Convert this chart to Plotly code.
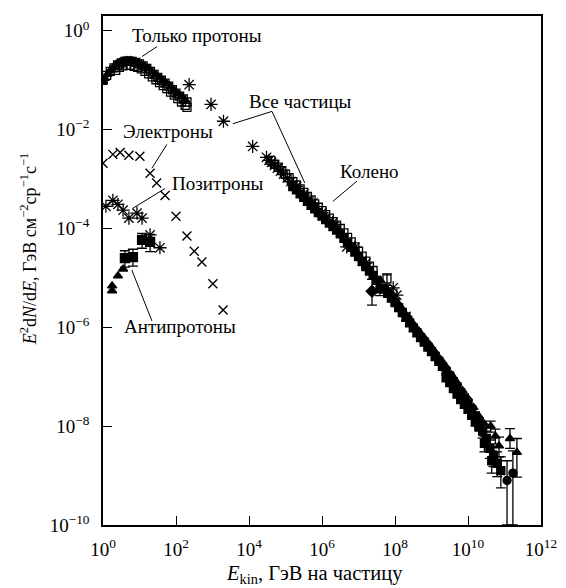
import numpy as np
import plotly.graph_objects as go

# ---------------- data (log10 of energy in GeV, log10 of E^2 dN/dE) ----------------
# Protons only (open squares, two data sets) and filled triangles
prot_a_logE = [0.00, 0.10, 0.20, 0.30, 0.40, 0.50, 0.60, 0.70, 0.80, 0.90, 1.00, 1.10,
               1.20, 1.30, 1.40, 1.50, 1.60, 1.70, 1.80, 1.90, 2.00, 2.10, 2.20, 2.30]
prot_a_logF = [-1.00, -0.90, -0.82, -0.75, -0.69, -0.65, -0.62, -0.61, -0.62, -0.64, -0.67, -0.71,
               -0.76, -0.82, -0.88, -0.94, -1.00, -1.06, -1.12, -1.19, -1.26, -1.32, -1.38, -1.44]
prot_b_logE = [0.35, 0.45, 0.55, 0.65, 0.75, 0.85, 0.95, 1.05, 1.15, 1.25, 1.35, 1.45, 1.55,
               1.65, 1.75, 1.85, 1.95, 2.05, 2.15, 2.25, 2.30]
prot_b_logF = [-0.80, -0.74, -0.71, -0.70, -0.70, -0.72, -0.74, -0.77, -0.82, -0.87, -0.93, -0.99, -1.05,
               -1.11, -1.17, -1.24, -1.30, -1.37, -1.44, -1.51, -1.55]
prot_t_logE = [0.00, 0.05, 0.12, 0.20, 0.28, 0.36, 0.45, 0.55, 0.65, 0.75, 0.85, 0.95, 1.05,
               1.15, 1.25, 1.35, 1.45, 1.55, 1.65, 1.75, 1.85, 1.95, 2.05, 2.15, 2.25]
prot_t_logF = [-1.02, -0.96, -0.88, -0.80, -0.74, -0.68, -0.64, -0.61, -0.60, -0.60, -0.62, -0.65, -0.68,
               -0.72, -0.77, -0.83, -0.89, -0.95, -1.01, -1.07, -1.13, -1.20, -1.27, -1.33, -1.40]

# Electrons (x)
elec_logE = [0.00, 0.27, 0.47, 0.71, 1.01, 1.29, 1.47, 1.70, 2.00, 2.30, 2.50, 2.71, 3.01, 3.29]
elec_logF = [-2.68, -2.50, -2.46, -2.52, -2.54, -2.88, -3.08, -3.33, -3.75, -4.15, -4.46, -4.68, -5.12, -5.65]

# Positrons (asterisks)
posi_logE = [0.08, 0.27, 0.41, 0.55, 0.71, 0.93, 1.07, 1.29, 1.56]
posi_logF = [-3.55, -3.43, -3.51, -3.63, -3.79, -3.69, -3.79, -4.13, -4.39]

# Antiprotons (filled squares with error bars)
apsq_logE = [0.60, 0.82, 1.07, 1.29]
apsq_logF = [-4.60, -4.58, -4.23, -4.27]
apsq_logHi = [-4.45, -4.42, -4.10, -4.12]
apsq_logLo = [-4.78, -4.76, -4.40, -4.47]
# Antiprotons (filled triangles)
aptr_logE = [0.25, 0.25, 0.41, 0.55]
aptr_logF = [-5.26, -5.16, -4.96, -4.82]

# All particles (asterisks)
allp_logE = [2.36, 2.96, 3.30, 4.10, 4.48, 4.55, 4.62, 4.70, 4.78, 4.86, 4.95, 5.05, 5.15,
             5.30, 5.50, 5.75, 6.00, 6.30, 6.68, 6.90, 7.20, 7.95, 8.05, 8.30]
allp_logF = [-1.09, -1.49, -1.83, -2.34, -2.56, -2.62, -2.66, -2.72, -2.78, -2.84, -2.90, -2.98, -3.05,
             -3.15, -3.30, -3.48, -3.68, -3.88, -4.37, -4.38, -4.70, -5.20, -5.35, -5.78]

# All particles: open squares
osq_logE = [4.60, 4.70, 4.80, 4.90, 5.00, 5.10, 5.20, 5.30, 5.40, 5.50, 5.60, 5.70, 5.80, 5.90, 6.00,
            6.10, 6.20, 6.30, 6.40, 6.50, 6.60, 6.70, 6.80, 6.90, 7.00, 7.10, 7.20, 7.30, 7.40]
osq_logF = [-2.62, -2.70, -2.76, -2.83, -2.90, -2.97, -3.05, -3.12, -3.20, -3.27, -3.35, -3.42, -3.50, -3.57, -3.64,
            -3.72, -3.79, -3.86, -3.93, -4.00, -4.09, -4.18, -4.27, -4.37, -4.46, -4.56, -4.66, -4.76, -4.85]
osq_err_logE = [7.78]
osq_err_logF = [-5.02]
osq_err_logHi = [-4.92]
osq_err_logLo = [-5.15]

# All particles: filled squares
fsq_logE = [5.20, 5.30, 5.40, 5.50, 5.60, 5.70, 5.80, 5.90, 6.00, 6.10, 6.20, 6.30, 6.40, 6.50, 6.60,
            6.70, 6.80, 6.90, 7.00, 7.10, 7.20, 7.30, 7.40, 7.50, 7.70, 7.80, 7.90, 8.00, 8.10, 8.20,
            8.30, 8.40, 8.50, 8.60, 8.70, 8.80, 8.90, 9.00, 9.10, 9.20, 9.30, 9.40, 9.50, 9.60, 9.70,
            9.80, 9.90, 10.00, 10.10, 10.20]
fsq_logF = [-3.15, -3.22, -3.30, -3.37, -3.45, -3.53, -3.60, -3.68, -3.75, -3.82, -3.89, -3.96, -4.03, -4.11, -4.20,
            -4.29, -4.38, -4.48, -4.57, -4.67, -4.77, -4.86, -4.95, -5.05, -5.22, -5.31, -5.41, -5.50, -5.60, -5.70,
            -5.80, -5.91, -6.01, -6.11, -6.21, -6.30, -6.40, -6.49, -6.59, -6.69, -6.79, -6.89, -6.99, -7.10, -7.21,
            -7.32, -7.43, -7.54, -7.66, -7.79]
fsq2_logE = [9.40, 9.50, 9.60, 9.70, 9.80, 9.90, 10.00, 10.10, 10.20, 10.30]
fsq2_logF = [-7.02, -7.12, -7.24, -7.35, -7.46, -7.56, -7.66, -7.78, -7.92, -8.02]
fsq_err_logE = [7.59, 10.30, 10.40, 10.50, 10.60, 10.70, 10.80, 10.90, 10.45, 10.65]
fsq_err_logF = [-5.22, -7.95, -8.10, -8.25, -8.45, -8.60, -8.75, -8.90, -8.35, -8.70]
fsq_err_logHi = [-5.10, -7.85, -7.98, -8.10, -8.28, -8.42, -8.52, -8.62, -8.20, -8.50]
fsq_err_logLo = [-5.36, -8.06, -8.24, -8.42, -8.65, -8.82, -9.02, -9.25, -8.52, -8.95]

# All particles: filled triangles
ftr_logE = [7.60, 7.75, 7.90, 8.05, 8.20, 8.35, 8.50, 8.65, 8.80, 8.95, 9.10, 9.25, 9.40, 9.55,
            9.70, 9.85, 10.00, 10.15, 10.30, 10.45]
ftr_logF = [-5.05, -5.20, -5.34, -5.48, -5.63, -5.78, -5.93, -6.07, -6.21, -6.35, -6.50, -6.65, -6.80, -6.96,
            -7.12, -7.28, -7.44, -7.62, -7.80, -7.96]
ftr_err_logE = [10.62, 10.75, 10.85, 11.15, 11.34]
ftr_err_logF = [-8.00, -8.20, -8.40, -8.25, -8.53]
ftr_err_logHi = [-7.90, -8.06, -8.22, -8.05, -8.25]
ftr_err_logLo = [-8.12, -8.36, -8.62, -8.45, -9.03]

# All particles: filled circles (highest energies)
circ_logE = [11.07, 11.23]
circ_logF = [-9.10, -8.95]
circ_logHi = [-8.70, -8.50]
circ_logLo = [-10.00, -10.00]

# Diamond near the knee
dia_logE = [7.37]
dia_logF = [-5.27]
dia_logHi = [-5.03]
dia_logLo = [-5.55]

# Leader lines for labels (log10 coords)
lead_prot = ([1.48, 1.07], [-0.32, -0.52])
lead_all = ([3.56, 4.63, 5.53], [-1.88, -1.63, -3.08])
lead_knee = ([6.96, 6.30], [-3.04, -3.45])
lead_elec = ([1.75, 1.34], [-2.30, -2.78])
lead_posi = ([1.70, 0.82], [-3.19, -3.59])
lead_apro = ([1.34, 0.79], [-5.87, -4.84])

labels = [("Только протоны", 2.58, -0.10), ("Все частицы", 5.40, -1.43), ("Колено", 7.29, -2.84),
          ("Электроны", 1.78, -2.04), ("Позитроны", 3.15, -3.08), ("Антипротоны", 2.11, -5.99)]

x_tick_exp = [0, 2, 4, 6, 8, 10, 12]
y_tick_exp = [0, -2, -4, -6, -8, -10]


def P(a):
    return np.power(10.0, np.array(a, dtype=float))


FONT = "Liberation Serif, Times New Roman, serif"
FS = 19
fig = go.Figure()


def add(xl, yl, symbol, size, hi=None, lo=None, lw=1.3):
    x = P(xl)
    y = P(yl)
    trace = dict(x=x, y=y, mode="markers", showlegend=False, hoverinfo="skip",
                 marker=dict(symbol=symbol, size=size, color="black",
                             line=dict(color="black", width=lw)))
    if hi is not None:
        trace["error_y"] = dict(type="data", symmetric=False, array=P(hi) - y, arrayminus=y - P(lo),
                                color="black", thickness=1.3, width=5)
    fig.add_trace(go.Scatter(**trace))


# protons
add(prot_t_logE, prot_t_logF, "triangle-up", 8)
add(prot_a_logE, prot_a_logF, "square-open", 8)
add(prot_b_logE, prot_b_logF, "square-open", 8)
# electrons, positrons, antiprotons
add(elec_logE, elec_logF, "x-thin-open", 9, lw=1.4)
add(posi_logE, posi_logF, "asterisk-open", 11, lw=1.3)
add(apsq_logE, apsq_logF, "square", 9, hi=apsq_logHi, lo=apsq_logLo)
add(aptr_logE, aptr_logF, "triangle-up", 8)
# all particles
add(osq_logE, osq_logF, "square-open", 8)
add(osq_err_logE, osq_err_logF, "square-open", 8, hi=osq_err_logHi, lo=osq_err_logLo)
add(fsq_logE, fsq_logF, "square", 8)
add(fsq2_logE, fsq2_logF, "square", 8)
add(fsq_err_logE, fsq_err_logF, "square", 8, hi=fsq_err_logHi, lo=fsq_err_logLo)
add(ftr_logE, ftr_logF, "triangle-up", 8)
add(ftr_err_logE, ftr_err_logF, "triangle-up", 8, hi=ftr_err_logHi, lo=ftr_err_logLo)
add(circ_logE, circ_logF, "circle", 8, hi=circ_logHi, lo=circ_logLo)
add(dia_logE, dia_logF, "diamond", 9, hi=dia_logHi, lo=dia_logLo)
add(allp_logE, allp_logF, "asterisk-open", 11, lw=1.3)

for lx, ly in [lead_prot, lead_all, lead_knee, lead_elec, lead_posi, lead_apro]:
    fig.add_trace(go.Scatter(x=P(lx), y=P(ly), mode="lines", showlegend=False, hoverinfo="skip",
                             line=dict(color="black", width=1)))

ann = []
for txt, lx, ly in labels:
    ann.append(dict(text=txt, x=lx, y=ly, xref="x", yref="y", showarrow=False,
                    font=dict(family=FONT, size=FS, color="black"), xanchor="center", yanchor="middle"))
ann.append(dict(text="<i>E</i><sub>kin</sub>, ГэВ на частицу", xref="paper", yref="paper",
                x=0.484, y=-0.098, showarrow=False, xanchor="center", yanchor="middle",
                font=dict(family=FONT, size=20.5, color="black")))
ann.append(dict(text="<i>E</i><sup>2</sup>d<i>N</i>/d<i>E</i>, ГэВ см<sup>−2</sup>ср<sup>−1</sup>с<sup>−1</sup>",
                xref="paper", yref="paper", x=-0.171, y=0.542, textangle=-90, showarrow=False,
                xanchor="center", yanchor="middle", font=dict(family=FONT, size=18, color="black")))

# the page body adds an 8 px offset, so the figure is 8 px smaller and margins are shifted
fig.update_layout(
    width=558, height=580,
    margin=dict(l=95, r=25, t=6, b=63),
    paper_bgcolor="white", plot_bgcolor="white",
    font=dict(family=FONT, size=FS, color="black"),
    annotations=ann,
)
fig.update_xaxes(type="log", range=[0, 12], showgrid=False, zeroline=False,
                 showline=True, linecolor="black", linewidth=1.5, mirror=True,
                 ticks="inside", ticklen=9, tickwidth=1.3, tickcolor="black",
                 tickvals=[10.0 ** e for e in x_tick_exp],
                 ticktext=["10<sup>%d</sup>" % e for e in x_tick_exp],
                 ticklabelstandoff=6,
                 tickfont=dict(family=FONT, size=FS, color="black"))
fig.update_yaxes(type="log", range=[-10, 0.3], showgrid=False, zeroline=False,
                 showline=True, linecolor="black", linewidth=1.5, mirror=True,
                 ticks="inside", ticklen=9, tickwidth=1.3, tickcolor="black",
                 tickvals=[10.0 ** e for e in y_tick_exp],
                 ticktext=[("10<sup>%d</sup>" % e).replace("-", "−") for e in y_tick_exp],
                 ticklabelstandoff=8,
                 tickfont=dict(family=FONT, size=FS, color="black"))

fig.write_html("out.html")
